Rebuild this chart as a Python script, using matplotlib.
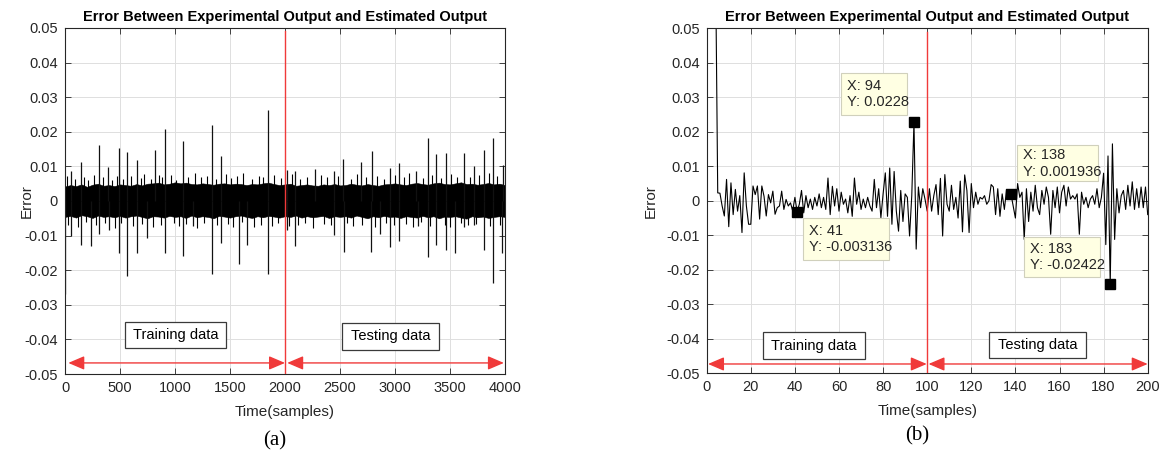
"""Error between experimental and estimated output: (a) all 4000 samples,
(b) zoom on the first 200 samples with MATLAB-style data tips."""
import matplotlib
matplotlib.use("Agg")
import matplotlib.pyplot as plt   # noqa: E402
import numpy as np   # noqa: E402
from matplotlib.patches import Rectangle, FancyArrowPatch, ArrowStyle   # noqa: E402

plt.rcParams['font.family'] = ['Liberation Sans', 'DejaVu Sans']

# ---------------- panel (a) data (units of 1e-3) ----------------
# dense noise band: upper / lower envelope every 50 samples
band_x = list(range(0, 4001, 50))
band_hi = [4.2, 4.6, 4.3, 4.8, 4.1, 4.7, 5.0, 4.4, 4.6, 4.3,
           4.8, 4.6, 4.4, 4.9, 4.5, 5.0, 5.1, 5.3, 4.8, 5.0,
           5.4, 5.1, 5.3, 4.9, 4.8, 5.1, 4.9, 4.7, 5.0, 5.1,
           4.8, 5.0, 4.9, 4.6, 4.9, 4.8, 5.1, 5.3, 4.9, 4.6,
           4.8, 5.0, 4.4, 4.6, 4.8, 4.5, 4.4, 4.8, 4.6, 4.9,
           4.5, 4.6, 5.0, 4.7, 4.5, 4.9, 4.6, 4.4, 4.8, 4.9,
           5.1, 4.8, 4.6, 5.0, 5.2, 4.9, 4.7, 5.1, 5.3, 4.9,
           4.8, 5.1, 5.4, 4.9, 5.0, 4.7, 4.9, 5.2, 4.8, 5.0,
           4.6]
band_lo = [-4.6, -4.3, -4.8, -4.1, -4.4, -4.9, -4.2, -4.6, -4.4, -4.7,
           -4.3, -4.8, -4.4, -4.2, -4.6, -5.0, -4.4, -4.5, -4.8, -4.3,
           -4.6, -4.4, -4.9, -4.2, -4.7, -4.4, -4.6, -5.0, -4.3, -4.5,
           -4.8, -4.4, -4.2, -4.6, -4.9, -4.4, -4.7, -4.3, -4.5, -4.8,
           -4.4, -4.6, -4.2, -4.8, -4.4, -4.7, -4.5, -4.3, -4.9, -4.4,
           -4.6, -4.4, -4.8, -4.2, -4.6, -5.0, -4.4, -4.7, -4.3, -4.6,
           -4.5, -4.9, -4.4, -4.6, -4.8, -4.3, -4.7, -4.4, -5.0, -4.5,
           -4.6, -4.4, -4.8, -5.1, -4.4, -4.7, -4.5, -4.9, -4.6, -4.4,
           -4.6]

# large spikes
spike_up_x = [52, 143, 309, 394, 488, 564, 652, 816, 910, 1074,
              1332, 1420, 1845, 2020, 2093, 2272, 2442, 2527, 2694, 2791,
              2955, 3039, 3194, 3300, 3373, 3464, 3628, 3719, 3813, 3889,
              3980]
spike_up_v = [8.6, 11.2, 16.3, 9.9, 15.3, 14.2, 11.9, 14.8, 20.9, 17.4,
              21.9, 13.1, 26.4, 9.0, 8.8, 9.3, 8.6, 12.2, 11.3, 14.4,
              9.6, 11.1, 8.8, 18.3, 13.5, 14.0, 14.0, 10.1, 14.7, 18.3,
              10.5]
spike_dn_x = [2, 55, 146, 234, 309, 400, 488, 564, 652, 743,
              907, 1074, 1162, 1332, 1420, 1580, 1656, 1845, 2020, 2093,
              2442, 2533, 2785, 2867, 2955, 3039, 3209, 3300, 3376, 3464,
              3549, 3628, 3719, 3807, 3889, 3974]
spike_dn_v = [-27.0, -10.1, -12.8, -13.0, -9.4, -8.3, -14.9, -21.6, -14.9, -10.8,
              -15.0, -15.9, -7.3, -21.0, -12.0, -18.3, -12.8, -21.2, -8.5, -13.0,
              -9.7, -14.7, -14.7, -9.6, -13.2, -11.5, -7.2, -16.3, -12.8, -14.2,
              -14.9, -7.6, -7.0, -14.2, -23.6, -14.9]

# small spikes poking out of the band
small_up_x = [20, 95, 170, 210, 260, 345, 430, 470, 530, 600,
              690, 720, 780, 850, 880, 960, 1010, 1120, 1180, 1240,
              1290, 1370, 1460, 1510, 1560, 1620, 1700, 1760, 1800, 1900,
              1960, 2060, 2140, 2200, 2330, 2380, 2480, 2600, 2650, 2740,
              2840, 2900, 3000, 3080, 3130, 3250, 3340, 3420, 3510, 3560,
              3680, 3760, 3850, 3930]
small_up_v = [7.2, 6.5, 7.0, 6.2, 7.5, 6.8, 6.0, 7.3, 6.4, 7.1,
              6.6, 7.8, 6.3, 7.4, 6.9, 7.6, 6.2, 7.0, 8.2, 6.8,
              7.3, 6.5, 7.9, 6.7, 7.2, 8.0, 6.4, 7.1, 6.9, 7.4,
              6.6, 7.7, 6.3, 7.0, 7.5, 6.8, 7.2, 6.5, 7.9, 6.9,
              7.3, 6.4, 7.6, 7.0, 8.1, 6.7, 7.4, 6.6, 7.8, 7.0,
              6.9, 7.5, 8.0, 7.2]
small_dn_x = [30, 120, 190, 280, 360, 450, 510, 620, 700, 800,
              870, 990, 1040, 1100, 1200, 1260, 1380, 1480, 1530, 1610,
              1720, 1780, 1880, 1940, 2040, 2120, 2180, 2250, 2350, 2420,
              2560, 2620, 2700, 2820, 2920, 2990, 3100, 3160, 3240, 3320,
              3450, 3500, 3600, 3660, 3740, 3860, 3950]
small_dn_v = [-6.8, -7.4, -6.2, -7.0, -6.5, -7.8, -6.3, -7.1, -6.6, -7.5,
              -6.9, -6.4, -7.2, -6.7, -7.9, -6.3, -7.0, -6.6, -7.4, -6.2,
              -7.6, -6.8, -7.1, -6.5, -7.3, -6.9, -6.4, -7.7, -6.6, -7.0,
              -6.3, -7.2, -6.8, -7.5, -6.5, -7.0, -6.7, -7.4, -6.2, -7.1,
              -6.9, -7.6, -6.4, -7.0, -6.6, -7.3, -6.8]

# ---------------- panel (b) data: samples 1..200 (units of 1e-3) ----------------
b_err = [150, 140, 110, 70, 2.3, 2.2, -1.5, -4.4, 6.2, -7.5,
         5.2, -4.0, 3.3, -3.0, 1.5, -9.2, 8.1, -1.5, -6.8, -6.8,
         4.3, 1.8, 4.3, -5.3, 4.3, 1.3, -4.4, 1.8, -0.6, 2.8,
         -3.9, -2.0, -1.5, 2.8, -2.5, 0.4, -1.5, -0.6, -2.9, 1.0,
         -3.136, -1.0, 3.0, -3.5, 1.5, -2.0, 0.5, -2.5, 1.0, -1.5,
         2.0, -2.0, 1.0, -2.5, 6.6, -4.0, 4.2, -1.5, 3.5, -3.0,
         2.5, -1.0, 0.5, -3.5, 1.5, -4.5, 6.6, -1.0, 2.5, -2.5,
         0.5, -2.0, 1.0, -1.5, -3.0, 6.2, -2.0, 3.5, -4.9, 2.0,
         8.1, -4.5, 9.5, -6.8, 8.5, -3.0, -8.8, 3.0, -6.0, 2.0,
         1.0, -10.2, 1.5, 22.8, -14.0, 4.0, -2.0, 3.5, 0.5, -3.0,
         3.5, -3.0, 1.5, 4.7, -4.0, 6.5, -10.2, 7.6, -1.0, -3.0,
         4.5, -2.5, 1.0, -5.0, 5.7, -9.0, 7.5, 3.0, -9.2, 5.0,
         -2.0, 2.5, -1.0, 1.0, 0.5, 1.5, -1.0, 0.0, 4.7, 4.0,
         -4.0, 3.5, -4.5, 2.0, -2.5, 3.3, 1.0, 1.936, -1.5, -5.0,
         5.0, 1.0, 2.5, -11.2, 3.5, -6.0, 2.5, -3.0, 4.5, -2.0,
         -4.0, 3.0, -1.0, 4.0, 1.0, -9.7, 3.0, -2.0, 4.0, -3.5,
         2.5, 4.5, -1.5, 4.0, 0.5, 1.5, 0.5, 2.0, -9.7, 2.5,
         -1.0, 1.0, -2.0, 0.5, 1.5, -1.0, 3.5, -2.0, 1.0, 8.0,
         -12.7, 13.0, -24.22, 16.5, -11.2, 3.5, -3.5, 1.5, 3.0, -2.5,
         4.5, -1.5, 5.5, -2.5, 3.5, -2.0, 4.0, -2.0, 4.0, -4.0]
tip_x = [94, 41, 138, 183]
# data tip boxes in axes fraction: x0, y0, x1, y1
tip_box = [(0.305, 0.749, 0.454, 0.870),
           (0.218, 0.328, 0.413, 0.450),
           (0.704, 0.556, 0.888, 0.662),
           (0.720, 0.279, 0.892, 0.395)]

TXT = '#262626'
RED = '#f03a3a'


def style_axes(ax, xmax, xstep):
    ax.set_xlim(0, xmax)
    ax.set_ylim(-0.05, 0.05)
    ax.set_xticks(np.arange(0, xmax + 1, xstep))
    yt = np.round(np.arange(-0.05, 0.0501, 0.01), 2)
    ax.set_yticks(yt)
    ax.set_yticklabels(['%g' % (t + 0.0) for t in yt])
    ax.tick_params(direction='in', top=True, right=True, length=4, width=0.6,
                   labelsize=10.5, labelcolor=TXT, color=TXT, pad=5)
    ax.grid(True, color='#dedede', lw=0.7)
    ax.set_axisbelow(True)
    for s in ax.spines.values():
        s.set_color(TXT)
        s.set_linewidth(0.8)
    ax.set_title('Error Between Experimental Output and Estimated Output',
                 fontsize=10.5, fontweight='bold', color='black', pad=5)
    ax.set_xlabel('Time(samples)', fontsize=11, color=TXT)
    ax.set_ylabel('Error', fontsize=11, color=TXT)


def label_box(ax, x0, y0, x1, y1, text):
    ax.add_patch(Rectangle((x0, y0), x1 - x0, y1 - y0, transform=ax.transAxes,
                           facecolor='white', edgecolor='#3a3a3a', lw=0.9, zorder=5))
    ax.text((x0 + x1) / 2, (y0 + y1) / 2, text, transform=ax.transAxes,
            ha='center', va='center', fontsize=10.5, color='black', zorder=6)


def double_arrow(ax, x0, x1, y):
    st = ArrowStyle('<|-|>', head_length=0.75, head_width=0.32)
    ax.add_patch(FancyArrowPatch((x0, y), (x1, y), arrowstyle=st, mutation_scale=13,
                                 color=RED, lw=1.0, shrinkA=0, shrinkB=0, zorder=4))


fig = plt.figure(figsize=(11.64, 4.54), dpi=100)
fig.patch.set_facecolor('white')

# ---------------- (a) ----------------
ax = fig.add_axes([65 / 1164, 80 / 454, 440 / 1164, 346 / 454])
style_axes(ax, 4000, 500)
s = 1e-3
ax.fill_between(band_x, np.array(band_lo) * s, np.array(band_hi) * s,
                color='black', lw=0.4, zorder=2)
ax.vlines(small_up_x, 0, np.array(small_up_v) * s, color='black', lw=0.8, zorder=2)
ax.vlines(small_dn_x, 0, np.array(small_dn_v) * s, color='black', lw=0.8, zorder=2)
ax.vlines(spike_up_x, 0, np.array(spike_up_v) * s, color='#111111', lw=0.9, zorder=2)
ax.vlines(spike_dn_x, 0, np.array(spike_dn_v) * s, color='#111111', lw=0.9, zorder=2)
ax.plot([2000, 2000], [-0.05, 0.049], color=RED, lw=1.0, zorder=3)
double_arrow(ax, 30, 2000, -0.0468)
double_arrow(ax, 2020, 3990, -0.0468)
label_box(ax, 0.136, 0.074, 0.366, 0.151, 'Training data')
label_box(ax, 0.630, 0.069, 0.851, 0.148, 'Testing data')
ax.yaxis.set_label_coords(-0.07, 0.5)
ax.xaxis.set_label_coords(0.5, -0.09)
fig.text(275 / 1164, 1 - 441 / 454, '(a)', family=['Liberation Serif', 'DejaVu Serif'],
         fontsize=15, ha='center', va='center')

# ---------------- (b) ----------------
ax = fig.add_axes([706.7 / 1164, 80.7 / 454, 441 / 1164, 345 / 454])
style_axes(ax, 200, 20)
xb = np.arange(1, len(b_err) + 1)
yb = np.array(b_err) * s
ax.plot(xb, yb, color='black', lw=0.8, zorder=2)
ax.plot([100, 100], [-0.05, 0.049], color=RED, lw=1.0, zorder=3)
double_arrow(ax, 0.6, 99.8, -0.0473)
double_arrow(ax, 100.6, 200, -0.0473)
label_box(ax, 0.127, 0.041, 0.359, 0.119, 'Training data')
label_box(ax, 0.640, 0.043, 0.860, 0.121, 'Testing data')
for tx, (x0, y0, x1, y1) in zip(tip_x, tip_box):
    ty = yb[tx - 1]
    ax.plot(tx, ty, 's', color='black', ms=6.5, zorder=7, clip_on=False)
    ax.add_patch(Rectangle((x0, y0), x1 - x0, y1 - y0, transform=ax.transAxes,
                           facecolor='#ffffe3', edgecolor='#d0d0bc', lw=0.8, zorder=6))
    ax.text(x0 + 0.013, (y0 + y1) / 2, 'X: %d\nY: %.4g' % (tx, ty), transform=ax.transAxes,
            ha='left', va='center', fontsize=10.5, color=TXT, linespacing=1.25, zorder=7)
ax.yaxis.set_label_coords(-0.112, 0.5)
ax.xaxis.set_label_coords(0.5, -0.09)
fig.text(917 / 1164, 1 - 436 / 454, '(b)', family=['Liberation Serif', 'DejaVu Serif'],
         fontsize=15, ha='center', va='center')

fig.savefig('out.png', dpi=100, facecolor='white')
plt.close(fig)
